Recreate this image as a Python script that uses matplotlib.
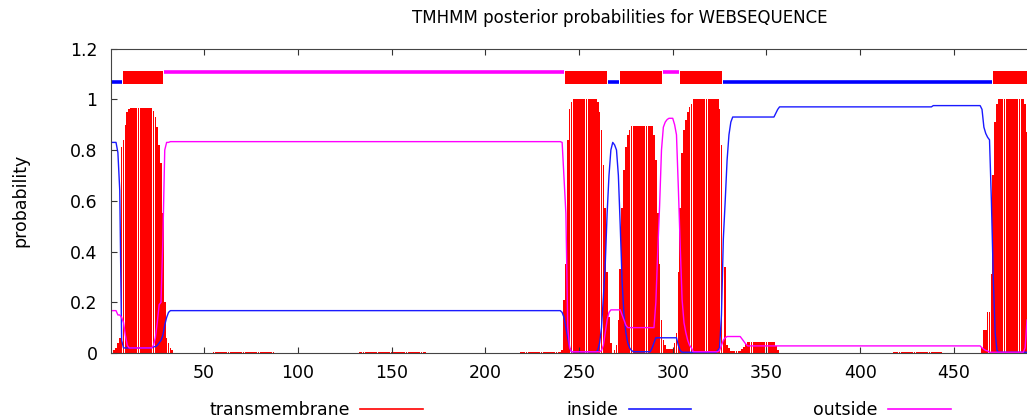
import matplotlib.pyplot as plt
import numpy as np
from matplotlib.lines import Line2D

plt.rcParams['font.family'] = ['DejaVu Sans']

# posterior probabilities per residue, stored as (value, run length)
tm_runs = [(0.0, 1), (0.01, 1), (0.02, 1), (0.04, 1), (0.06, 1), (0.81, 1), (0.84, 1),
           (0.90, 1), (0.95, 1), (0.96, 1), (0.965, 12), (0.955, 1), (0.93, 1), (0.89, 1),
           (0.82, 1), (0.75, 1), (0.55, 1), (0.20, 1), (0.06, 1), (0.04, 1), (0.02, 1),
           (0.01, 1), (0.0, 21), (0.004, 33), (0.0, 45), (0.004, 36), (0.0, 50),
           (0.004, 22), (0.01, 1), (0.21, 1), (0.35, 1), (0.84, 1), (0.96, 1), (0.99, 1),
           (1.0, 13), (0.99, 1), (0.95, 1), (0.88, 1), (0.74, 1), (0.57, 1), (0.32, 1),
           (0.14, 1), (0.04, 1), (0.0, 1), (0.01, 1), (0.03, 1), (0.13, 1), (0.33, 1),
           (0.57, 1), (0.72, 1), (0.81, 1), (0.86, 1), (0.88, 1), (0.895, 12), (0.86, 1),
           (0.76, 1), (0.55, 1), (0.35, 1), (0.13, 1), (0.05, 1), (0.03, 1), (0.015, 4),
           (0.04, 1), (0.08, 1), (0.32, 1), (0.57, 1), (0.79, 1), (0.88, 1), (0.92, 1),
           (0.95, 1), (0.97, 1), (0.98, 1), (1.0, 14), (0.96, 1), (0.82, 1), (0.05, 1),
           (0.34, 1), (0.03, 1), (0.02, 1), (0.008, 6), (0.015, 1), (0.025, 1),
           (0.035, 1), (0.042, 15), (0.027, 1), (0.012, 1), (0.0, 61), (0.003, 26),
           (0.0, 21), (0.02, 1), (0.09, 1), (0.09, 1), (0.16, 1), (0.16, 1), (0.31, 1),
           (0.70, 1), (0.91, 1), (0.98, 1), (1.0, 14), (0.98, 1), (0.87, 1)]

inside_runs = [(0.83, 3), (0.79, 1), (0.64, 1), (0.05, 1), (0.02, 16), (0.025, 2),
               (0.03, 1), (0.04, 1), (0.05, 1), (0.07, 1), (0.11, 1), (0.14, 1),
               (0.16, 1), (0.167, 209), (0.16, 1), (0.14, 1), (0.10, 1), (0.06, 1),
               (0.02, 1), (0.005, 14), (0.01, 1), (0.04, 1), (0.10, 1), (0.22, 1),
               (0.35, 1), (0.55, 1), (0.70, 1), (0.80, 1), (0.83, 1), (0.82, 1),
               (0.80, 1), (0.70, 1), (0.50, 1), (0.28, 1), (0.15, 1), (0.08, 1),
               (0.04, 1), (0.02, 1), (0.01, 1), (0.005, 10), (0.02, 1), (0.04, 1),
               (0.06, 12), (0.03, 1), (0.01, 1), (0.003, 19), (0.01, 1), (0.02, 1),
               (0.15, 1), (0.45, 1), (0.60, 1), (0.76, 1), (0.86, 1), (0.91, 1),
               (0.93, 23), (0.945, 1), (0.96, 1), (0.97, 82), (0.975, 26), (0.96, 1),
               (0.89, 1), (0.865, 1), (0.85, 1), (0.84, 1), (0.60, 1), (0.30, 1),
               (0.08, 1), (0.01, 1), (0.003, 16)]

outside_runs = [(0.167, 3), (0.15, 2), (0.14, 1), (0.12, 1), (0.07, 1), (0.03, 1),
                (0.02, 13), (0.03, 1), (0.06, 1), (0.12, 1), (0.19, 1), (0.20, 1),
                (0.45, 1), (0.80, 1), (0.83, 2), (0.833, 209), (0.83, 1), (0.69, 1),
                (0.55, 1), (0.10, 1), (0.02, 1), (0.005, 16), (0.01, 1), (0.03, 1),
                (0.08, 1), (0.13, 1), (0.16, 1), (0.17, 6), (0.15, 1), (0.13, 1),
                (0.11, 1), (0.10, 15), (0.20, 1), (0.40, 1), (0.58, 1), (0.80, 1),
                (0.89, 1), (0.91, 1), (0.92, 1), (0.925, 3), (0.90, 1), (0.86, 1),
                (0.65, 1), (0.42, 1), (0.21, 1), (0.12, 1), (0.08, 1), (0.05, 1),
                (0.03, 1), (0.02, 1), (0.005, 14), (0.01, 1), (0.03, 1), (0.05, 1),
                (0.06, 1), (0.065, 8), (0.055, 1), (0.045, 1), (0.035, 1), (0.028, 125),
                (0.02, 1), (0.015, 1), (0.01, 1), (0.008, 1), (0.003, 19), (0.02, 1),
                (0.13, 1)]

# predicted topology
topo_start = [1, 7, 29, 243, 266, 272, 295, 304, 327, 471]
topo_end = [6, 28, 242, 265, 271, 294, 303, 326, 470, 489]
topo_kind = ['inside', 'TM', 'outside', 'TM', 'inside', 'TM', 'outside', 'TM', 'inside', 'TM']


def expand(runs):
    vals = [v for v, n in runs]
    counts = [n for v, n in runs]
    return np.repeat(vals, counts)


tm = expand(tm_runs)
inside = expand(inside_runs)
outside = expand(outside_runs)
res = np.arange(1, len(tm) + 1)

RED = '#ff0000'
BLUE = '#1a1aff'
MAG = '#ff00ff'
FS = 12.5

fig = plt.figure(figsize=(10.27, 4.20), dpi=100)
ax = fig.add_axes([0.1084, 0.1595, 0.8916, 0.725])

# narrow impulses, not antialiased, so the thin white seams show like gnuplot's
ax.bar(res, tm, width=0.87, color=RED, linewidth=0, antialiased=False)
ax.plot(res, inside, color=BLUE, lw=1.0)
ax.plot(res, outside, color=MAG, lw=1.0)

for s, e, k in zip(topo_start, topo_end, topo_kind):
    if k == 'TM':
        ax.fill_between([s - 0.3, e + 0.1], 1.062, 1.113, color=RED, linewidth=0)
    elif k == 'inside':
        ax.plot([s - 0.3, e + 0.1], [1.068, 1.068], color='#0000ff', lw=2.6,
                solid_capstyle='butt')
    else:
        ax.plot([s - 0.3, e + 0.1], [1.108, 1.108], color=MAG, lw=2.6,
                solid_capstyle='butt')

ax.set_xlim(0.5, 489)
ax.set_ylim(0, 1.2)
ax.set_xticks(np.arange(50, 451, 50))
ax.set_yticks([0, 0.2, 0.4, 0.6, 0.8, 1.0, 1.2])
ax.set_yticklabels(['0', '0.2', '0.4', '0.6', '0.8', '1', '1.2'])
ax.tick_params(direction='in', top=True, right=False, length=4, labelsize=FS,
               color='#333333')
ax.tick_params(axis='y', pad=10)
ax.tick_params(axis='x', pad=8)
ax.spines['right'].set_visible(False)
for sp in ['left', 'top', 'bottom']:
    ax.spines[sp].set_color('#444444')

fig.text(620 / 1027, 1 - 18 / 420, 'TMHMM posterior probabilities for WEBSEQUENCE',
         ha='center', va='center', fontsize=12)
fig.text(20 / 1027, 1 - 200 / 420, 'probability', rotation=90,
         ha='center', va='center', fontsize=FS)

names = ['transmembrane', 'inside', 'outside']
colors = [RED, BLUE, MAG]
centers = [316, 629, 882]
for name, c, cx in zip(names, colors, centers):
    h = Line2D([], [], color=c, lw=1.2)
    fig.legend(handles=[h], labels=[name], loc='center',
               bbox_to_anchor=(cx / 1027, 1 - 410 / 420), frameon=False,
               markerfirst=False, handlelength=3.6, handletextpad=0.6,
               fontsize=FS, borderaxespad=0, borderpad=0)

fig.savefig('out.png', dpi=100)
